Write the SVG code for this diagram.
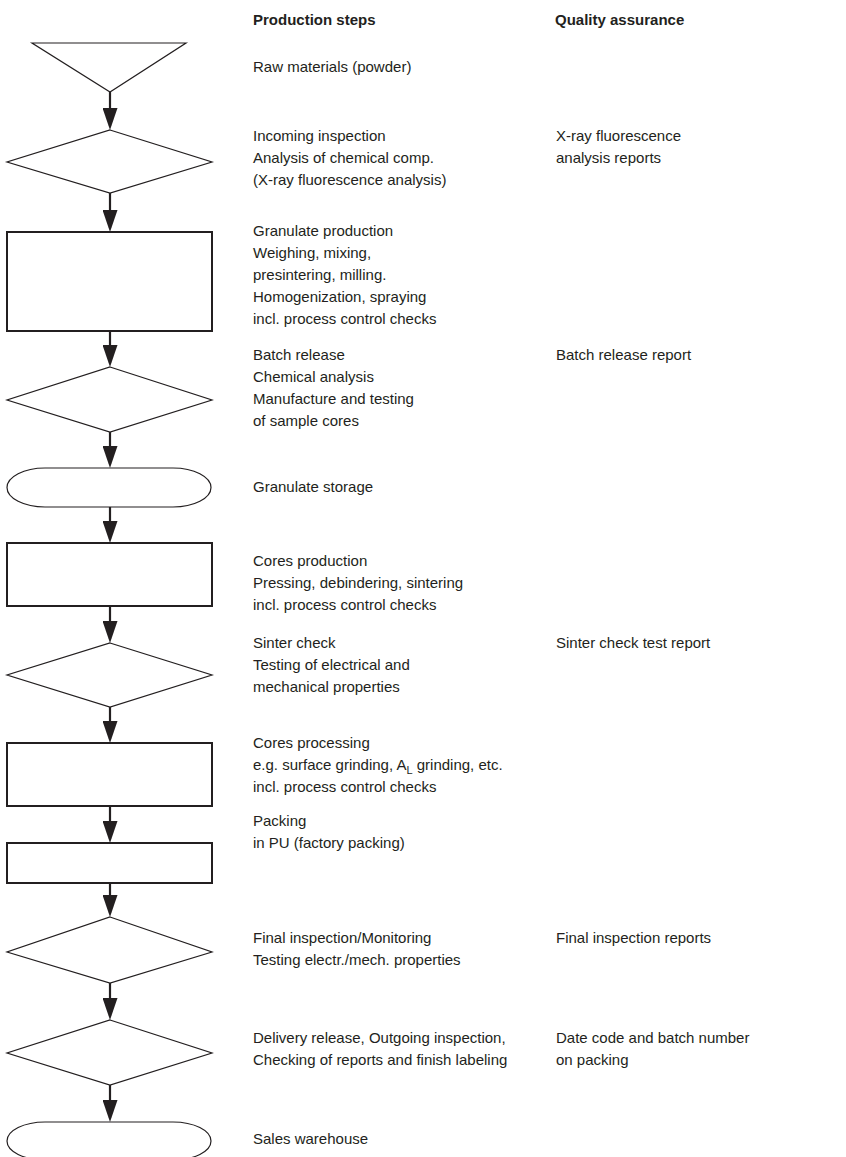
<svg xmlns="http://www.w3.org/2000/svg" width="846" height="1157" viewBox="0 0 846 1157">
<style>
.s{fill:#fff;stroke:#231f20;stroke-width:1.2}
.r{fill:#fff;stroke:#231f20;stroke-width:2}
.t{font-family:"Liberation Sans",Arial,sans-serif;font-size:15px;fill:#231f20}
.h{font-family:"Liberation Sans",Arial,sans-serif;font-size:15px;font-weight:bold;fill:#231f20}
.c{stroke:#231f20;stroke-width:2.2;fill:none}
</style>
<defs>
<marker id="ah" markerUnits="userSpaceOnUse" markerWidth="22" markerHeight="15" refX="18" refY="7.5" orient="auto">
<path d="M0,0 L22,7.5 L0,15 Z" fill="#231f20"/>
</marker>
</defs>
<rect width="846" height="1157" fill="#fff"/>
<text class="h" x="253" y="25">Production steps</text>
<text class="h" x="555" y="25">Quality assurance</text>

<g id="n1"><path class="s" d="M32,43 H186 L110,92 Z"/><text class="t" x="253" y="72">Raw materials (powder)</text></g>
<g id="n2"><path class="s" d="M110,130 L212,162 L110,193 L7,162 Z"/><text class="t" x="253" y="141">Incoming inspection</text><text class="t" x="253" y="163">Analysis of chemical comp.</text><text class="t" x="253" y="185">(X-ray fluorescence analysis)</text><text class="t" x="556" y="141">X-ray fluorescence</text><text class="t" x="556" y="163">analysis reports</text></g>
<g id="n3"><rect class="r" x="7" y="232" width="205" height="99"/><text class="t" x="253" y="236">Granulate production</text><text class="t" x="253" y="258">Weighing, mixing,</text><text class="t" x="253" y="280">presintering, milling.</text><text class="t" x="253" y="302">Homogenization, spraying</text><text class="t" x="253" y="324">incl. process control checks</text></g>
<g id="n4"><path class="s" d="M110,367 L212,400 L110,432 L7,400 Z"/><text class="t" x="253" y="360">Batch release</text><text class="t" x="253" y="382">Chemical analysis</text><text class="t" x="253" y="404">Manufacture and testing</text><text class="t" x="253" y="426">of sample cores</text><text class="t" x="556" y="360">Batch release report</text></g>
<g id="n5"><path class="s" d="M45,468 H173 A38,19.5 0 0 1 173,507 H45 A38,19.5 0 0 1 45,468 Z"/><text class="t" x="253" y="492">Granulate storage</text></g>
<g id="n6"><rect class="r" x="7" y="543" width="205" height="63"/><text class="t" x="253" y="566">Cores production</text><text class="t" x="253" y="588">Pressing, debindering, sintering</text><text class="t" x="253" y="610">incl. process control checks</text></g>
<g id="n7"><path class="s" d="M110,643 L212,675 L110,707 L7,675 Z"/><text class="t" x="253" y="648">Sinter check</text><text class="t" x="253" y="670">Testing of electrical and</text><text class="t" x="253" y="692">mechanical properties</text><text class="t" x="556" y="648">Sinter check test report</text></g>
<g id="n8"><rect class="r" x="7" y="743" width="205" height="63"/><text class="t" x="253" y="748">Cores processing</text><text class="t" x="253" y="770">e.g. surface grinding, A<tspan font-size="11" dy="4">L</tspan><tspan dy="-4"> grinding, etc.</tspan></text><text class="t" x="253" y="792">incl. process control checks</text></g>
<g id="n9"><rect class="r" x="7" y="843" width="205" height="40"/><text class="t" x="253" y="826">Packing</text><text class="t" x="253" y="848">in PU (factory packing)</text></g>
<g id="n10"><path class="s" d="M110,917 L212,952 L110,983 L7,952 Z"/><text class="t" x="253" y="943">Final inspection/Monitoring</text><text class="t" x="253" y="965">Testing electr./mech. properties</text><text class="t" x="556" y="943">Final inspection reports</text></g>
<g id="n11"><path class="s" d="M110,1020 L212,1053 L110,1085 L7,1053 Z"/><text class="t" x="253" y="1043">Delivery release, Outgoing inspection,</text><text class="t" x="253" y="1065">Checking of reports and finish labeling</text><text class="t" x="556" y="1043">Date code and batch number</text><text class="t" x="556" y="1065">on packing</text></g>
<g id="n12"><path class="s" d="M45,1122 H173 A38,19 0 0 1 173,1160 H45 A38,19 0 0 1 45,1122 Z"/><text class="t" x="253" y="1144">Sales warehouse</text></g>

<g id="connectors">
<line class="c" x1="110" y1="92" x2="110" y2="126" marker-end="url(#ah)"/>
<line class="c" x1="110" y1="193" x2="110" y2="228" marker-end="url(#ah)"/>
<line class="c" x1="110" y1="331" x2="110" y2="363" marker-end="url(#ah)"/>
<line class="c" x1="110" y1="432" x2="110" y2="464" marker-end="url(#ah)"/>
<line class="c" x1="110" y1="507" x2="110" y2="539" marker-end="url(#ah)"/>
<line class="c" x1="110" y1="606" x2="110" y2="639" marker-end="url(#ah)"/>
<line class="c" x1="110" y1="707" x2="110" y2="739" marker-end="url(#ah)"/>
<line class="c" x1="110" y1="806" x2="110" y2="839" marker-end="url(#ah)"/>
<line class="c" x1="110" y1="883" x2="110" y2="913" marker-end="url(#ah)"/>
<line class="c" x1="110" y1="983" x2="110" y2="1016" marker-end="url(#ah)"/>
<line class="c" x1="110" y1="1085" x2="110" y2="1118" marker-end="url(#ah)"/>
</g>
</svg>
